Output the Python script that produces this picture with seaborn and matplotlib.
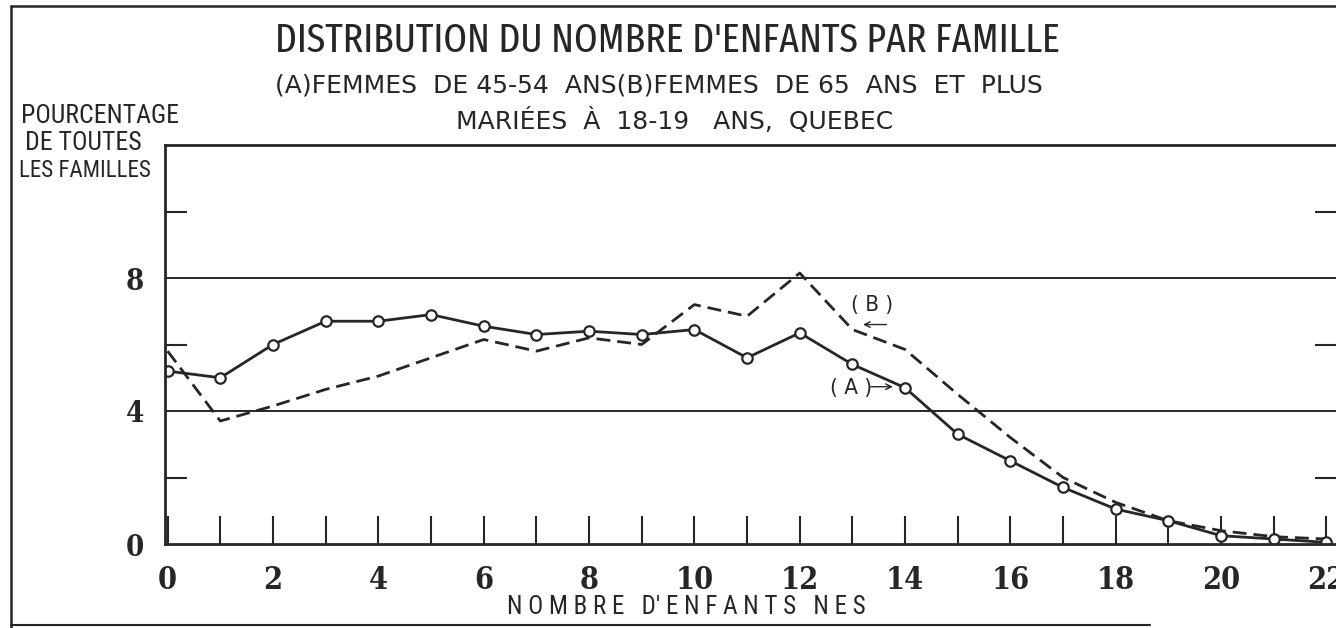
import numpy as np
import pandas as pd
import matplotlib
matplotlib.use("Agg")
import matplotlib.pyplot as plt
from matplotlib.lines import Line2D
from matplotlib.ticker import MultipleLocator, NullFormatter
import seaborn as sns

# nombre d'enfants nes
enfants = list(range(0, 23))
# (A) femmes de 45-54 ans
serie_a = [5.2, 5.0, 6.0, 6.7, 6.7, 6.9, 6.55, 6.3, 6.4, 6.3, 6.45, 5.6, 6.35,
           5.4, 4.7, 3.3, 2.5, 1.7, 1.05, 0.7, 0.25, 0.15, 0.05]
# (B) femmes de 65 ans et plus
serie_b = [5.8, 3.7, 4.15, 4.65, 5.05, 5.6, 6.15, 5.8, 6.2, 6.0, 7.2, 6.85, 8.15,
           6.45, 5.85, 4.5, 3.2, 2.0, 1.25, 0.7, 0.4, 0.22, 0.15]

df = pd.DataFrame({"enfants": enfants, "A": serie_a, "B": serie_b})

sns.set_style("white")
plt.rcParams['font.family'] = ['DejaVu Sans']

INK = "#262626"
cond = ['Fira Sans Extra Condensed', 'DejaVu Sans']
cond2 = ['Roboto Condensed', 'DejaVu Sans']
serif = ['DejaVu Serif']

fig = plt.figure(figsize=(13.36, 6.28), dpi=100)
ax = fig.add_axes([165/1336, (628-544)/628, (1337-165)/1336, (544-145)/628])

sns.lineplot(data=df, x="enfants", y="B", ax=ax, color=INK, lw=2.0,
             dashes=False, linestyle=(0, (5, 2.5)))
sns.lineplot(data=df, x="enfants", y="A", ax=ax, color=INK, lw=2.0,
             marker="o", markersize=7.5, markerfacecolor="white",
             markeredgecolor=INK, markeredgewidth=1.6)

ax.set_xlim(-0.05, 22.2)
ax.set_ylim(0, 12)

for v in [4, 8]:
    ax.axhline(v, color=INK, lw=1.4, zorder=0)

for s in ax.spines.values():
    s.set_color(INK)
    s.set_linewidth(2.0)

ax.xaxis.set_major_locator(MultipleLocator(2))
ax.xaxis.set_minor_locator(MultipleLocator(1))
ax.xaxis.set_minor_formatter(NullFormatter())
ax.tick_params(axis="x", which="both", direction="in", length=20, width=1.5,
               color=INK, top=False, bottom=True, pad=15)
ax.tick_params(axis="x", which="major", labelsize=22)

ax.set_yticks([0, 4, 8])
ax.set_yticks([2, 6, 10], minor=True)
ax.tick_params(axis="y", which="major", length=0, pad=15, labelsize=21)
ax.tick_params(axis="y", which="minor", direction="in", length=16, width=1.5,
               color=INK, left=True, right=True)

for lab in ax.get_xticklabels() + ax.get_yticklabels():
    lab.set_family(serif)
    lab.set_fontstretch("condensed")
    lab.set_fontweight("bold")
    lab.set_color(INK)

ax.set_xlabel("")
ax.set_ylabel("")

# annotations (A) et (B)
ax.text(13.38, 7.2, "( B )", ha="center", va="center", fontsize=16,
        family=['DejaVu Sans'], fontstretch="condensed", color=INK)
ax.annotate("", xy=(13.15, 6.6), xytext=(13.7, 6.6),
            arrowprops=dict(arrowstyle="->", color=INK, lw=1.0))
ax.text(12.98, 4.7, "( A )", ha="center", va="center", fontsize=16,
        family=['DejaVu Sans'], fontstretch="condensed", color=INK)
ax.annotate("", xy=(13.82, 4.73), xytext=(13.3, 4.73),
            arrowprops=dict(arrowstyle="->", color=INK, lw=1.0))

# titres
fig.text(667/1336, 1 - 41/628, "DISTRIBUTION DU NOMBRE D'ENFANTS PAR FAMILLE",
         ha="center", va="center", fontsize=29.5, family=cond, fontstretch="condensed",
         color=INK)
fig.text(659/1336, 1 - 85/628, "(A)FEMMES  DE 45-54  ANS(B)FEMMES  DE 65  ANS  ET  PLUS",
         ha="center", va="center", fontsize=18, color=INK)
fig.text(675/1336, 1 - 121/628, "MARIÉES  À  18-19   ANS,  QUEBEC",
         ha="center", va="center", fontsize=18, color=INK)

for txt, x0, y0, fs in [("POURCENTAGE", 21, 116, 18.5), ("DE TOUTES", 25, 143, 18.5),
                        ("LES FAMILLES", 19, 170, 16.5)]:
    fig.text(x0/1336, 1 - y0/628, txt, ha="left", va="center", fontsize=fs,
             family=cond2, fontstretch="condensed", color=INK)

fig.text(686/1336, 1 - 607/628, "N O M B R E   D' E N F A N T S   N E S", ha="center",
         va="center", fontsize=18, family=cond2, fontstretch="condensed", color=INK)

# cadre exterieur
fig.add_artist(Line2D([11/1336, 11/1336], [0, 1 - 6/628], transform=fig.transFigure,
                      color=INK, lw=1.8))
fig.add_artist(Line2D([11/1336, 1], [1 - 6/628, 1 - 6/628], transform=fig.transFigure,
                      color=INK, lw=1.8))
fig.add_artist(Line2D([11/1336, 1150/1336], [1 - 625/628, 1 - 625/628],
                      transform=fig.transFigure, color=INK, lw=1.5))

fig.savefig("out.png", dpi=100, facecolor="white")
